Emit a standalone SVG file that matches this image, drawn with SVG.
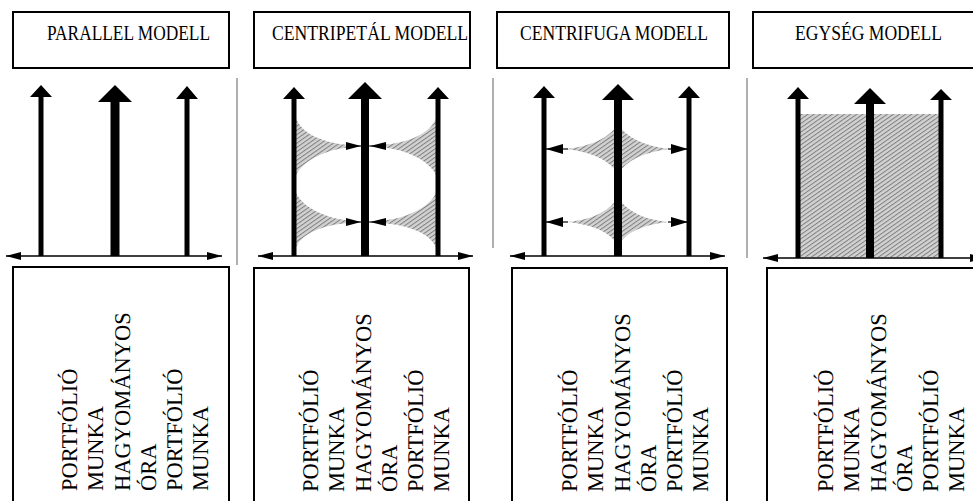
<svg xmlns="http://www.w3.org/2000/svg" width="973" height="501" viewBox="0 0 973 501">
<style>
.box{fill:#fff;stroke:#000;stroke-width:2}
.title{font-family:"Liberation Serif","Times New Roman",serif;font-size:20px;fill:#000}
.lbl{font-family:"Liberation Serif","Times New Roman",serif;font-size:22.5px;fill:#000;text-rendering:geometricPrecision}
.sep{stroke:#b0b0b0;stroke-width:2}
.axis{stroke:#000;stroke-width:1.5;fill:none;marker-start:url(#hs);marker-end:url(#he)}
.arr{fill:#000}
.hatch{fill:url(#ht)}
</style>
<defs>
<pattern id="ht" patternUnits="userSpaceOnUse" width="3.5" height="3.5" patternTransform="rotate(-35)">
<rect width="3.5" height="3.5" fill="#d2d2d2"/>
<line x1="0" y1="0.5" x2="3.5" y2="0.5" stroke="#7e7e7e" stroke-width="1"/>
</pattern>
<marker id="he" markerUnits="userSpaceOnUse" markerWidth="16" markerHeight="10" refX="15" refY="5" orient="auto">
<path d="M0,1 L15,5 L0,9 Z" fill="#000"/>
</marker>
<marker id="hs" markerUnits="userSpaceOnUse" markerWidth="16" markerHeight="10" refX="1" refY="5" orient="auto">
<path d="M16,1 L1,5 L16,9 Z" fill="#000"/>
</marker>
</defs>

<!-- separators -->
<line class="sep" x1="237" y1="78" x2="237" y2="265"/>
<line class="sep" x1="493" y1="78" x2="493" y2="248"/>
<line class="sep" x1="747" y1="78" x2="747" y2="258"/>

<!-- hatched regions -->
<g id="hatching">
<path class="hatch" d="M294,112 Q300,143 360,146 L360,222 Q300,225 294,253 Z"/>
<path class="hatch" d="M438,112 Q432,143 370,146 L370,222 Q432,225 438,253 Z"/>
<ellipse cx="366" cy="184" rx="72" ry="38" fill="#fff"/>
<path class="hatch" d="M618,124 Q606,144 567,149 Q606,154 618,174 Q630,154 669,149 Q630,144 618,124 Z"/>
<path class="hatch" d="M618,197 Q606,218 568,222 Q606,226 618,245 Q630,226 668,222 Q630,218 618,197 Z"/>
<rect class="hatch" x="798" y="114" width="143" height="143"/>
</g>

<!-- title nodes -->
<g id="title-parallel"><rect class="box" x="13" y="12" width="216" height="56"/><text class="title" x="47" y="40" textLength="163" lengthAdjust="spacingAndGlyphs">PARALLEL MODELL</text></g>
<g id="title-centripetal"><rect class="box" x="254" y="12" width="216" height="56"/><text class="title" x="272" y="40" textLength="196" lengthAdjust="spacingAndGlyphs">CENTRIPETÁL MODELL</text></g>
<g id="title-centrifuga"><rect class="box" x="497" y="12" width="232" height="56"/><text class="title" x="520" y="40" textLength="188" lengthAdjust="spacingAndGlyphs">CENTRIFUGA MODELL</text></g>
<g id="title-egyseg"><rect class="box" x="753" y="12" width="240" height="56"/><text class="title" x="795" y="40" textLength="147" lengthAdjust="spacingAndGlyphs">EGYSÉG MODELL</text></g>

<!-- connectors -->
<g id="connectors">
<line class="axis" x1="6" y1="256" x2="222" y2="256"/>
<line class="axis" x1="258" y1="256" x2="473" y2="256"/>
<line class="axis" x1="510" y1="256" x2="725" y2="256"/>
<line class="axis" x1="763" y1="258" x2="985" y2="258"/>

<path class="arr" d="M38.5,256 V97 H30 L41,85 L52,97 H43.5 V256 Z"/>
<path class="arr" d="M110.5,256 V102 H98 L115,85 L132,102 H119.5 V256 Z"/>
<path class="arr" d="M184.5,256 V99 H176 L187,86 L198,99 H189.5 V256 Z"/>

<path class="arr" d="M291.5,256 V99 H283 L294,87 L305,99 H296.5 V256 Z"/>
<path class="arr" d="M361,256 V99 H348 L365,82 L382,99 H369 V256 Z"/>
<path class="arr" d="M435.5,256 V99 H427 L438,87 L449,99 H440.5 V256 Z"/>
<line x1="346" y1="146" x2="386" y2="146" stroke="#000" stroke-width="1.2"/>
<path class="arr" d="M346,142 L361,146 L346,150 Z"/>
<path class="arr" d="M386,142 L370,146 L386,150 Z"/>
<line x1="346" y1="222" x2="386" y2="222" stroke="#000" stroke-width="1.2"/>
<path class="arr" d="M346,218 L361,222 L346,226 Z"/>
<path class="arr" d="M386,218 L370,222 L386,226 Z"/>

<path class="arr" d="M541.5,256 V98 H533 L544,86 L555,98 H546.5 V256 Z"/>
<path class="arr" d="M614,256 V100 H602 L618,84 L634,100 H622 V256 Z"/>
<path class="arr" d="M686.5,256 V98 H678 L689,86 L700,98 H691.5 V256 Z"/>
<line x1="546" y1="149" x2="568" y2="149" stroke="#000" stroke-width="1.2"/>
<path class="arr" d="M563,144 L546,149 L563,154 Z"/>
<line x1="668" y1="149" x2="688" y2="149" stroke="#000" stroke-width="1.2"/>
<path class="arr" d="M671,144 L688,149 L671,154 Z"/>
<line x1="546" y1="222" x2="568" y2="222" stroke="#000" stroke-width="1.2"/>
<path class="arr" d="M563,217 L546,222 L563,227 Z"/>
<line x1="668" y1="222" x2="688" y2="222" stroke="#000" stroke-width="1.2"/>
<path class="arr" d="M671,217 L688,222 L671,227 Z"/>

<path class="arr" d="M795.5,258 V99 H787 L798,87 L809,99 H800.5 V258 Z"/>
<path class="arr" d="M866,258 V104 H854 L870,88 L886,104 H874 V258 Z"/>
<path class="arr" d="M938.5,258 V100 H930 L941,89 L952,100 H943.5 V258 Z"/>
</g>

<!-- label nodes -->
<g id="labels-parallel">
<rect class="box" x="13" y="267" width="216" height="250"/>
<text class="lbl" transform="translate(77,491) rotate(-90)">PORTFÓLIÓ</text>
<text class="lbl" transform="translate(103,491) rotate(-90)">MUNKA</text>
<text class="lbl" transform="translate(130,491) rotate(-90)">HAGYOMÁNYOS</text>
<text class="lbl" transform="translate(155.5,491) rotate(-90)">ÓRA</text>
<text class="lbl" transform="translate(182,491) rotate(-90)">PORTFÓLIÓ</text>
<text class="lbl" transform="translate(208,491) rotate(-90)">MUNKA</text>
</g>
<g id="labels-centripetal">
<rect class="box" x="254" y="268" width="215" height="250"/>
<text class="lbl" transform="translate(318,492) rotate(-90)">PORTFÓLIÓ</text>
<text class="lbl" transform="translate(344,492) rotate(-90)">MUNKA</text>
<text class="lbl" transform="translate(370.5,492) rotate(-90)">HAGYOMÁNYOS</text>
<text class="lbl" transform="translate(396.5,492) rotate(-90)">ÓRA</text>
<text class="lbl" transform="translate(423,492) rotate(-90)">PORTFÓLIÓ</text>
<text class="lbl" transform="translate(449,492) rotate(-90)">MUNKA</text>
</g>
<g id="labels-centrifuga">
<rect class="box" x="512" y="268" width="215" height="250"/>
<text class="lbl" transform="translate(577,492) rotate(-90)">PORTFÓLIÓ</text>
<text class="lbl" transform="translate(603,492) rotate(-90)">MUNKA</text>
<text class="lbl" transform="translate(629.5,492) rotate(-90)">HAGYOMÁNYOS</text>
<text class="lbl" transform="translate(655.5,492) rotate(-90)">ÓRA</text>
<text class="lbl" transform="translate(682,492) rotate(-90)">PORTFÓLIÓ</text>
<text class="lbl" transform="translate(708,492) rotate(-90)">MUNKA</text>
</g>
<g id="labels-egyseg">
<rect class="box" x="767" y="268" width="230" height="250"/>
<text class="lbl" transform="translate(833,492) rotate(-90)">PORTFÓLIÓ</text>
<text class="lbl" transform="translate(859,492) rotate(-90)">MUNKA</text>
<text class="lbl" transform="translate(885.5,492) rotate(-90)">HAGYOMÁNYOS</text>
<text class="lbl" transform="translate(911.5,492) rotate(-90)">ÓRA</text>
<text class="lbl" transform="translate(938,492) rotate(-90)">PORTFÓLIÓ</text>
<text class="lbl" transform="translate(964,492) rotate(-90)">MUNKA</text>
</g>
</svg>
